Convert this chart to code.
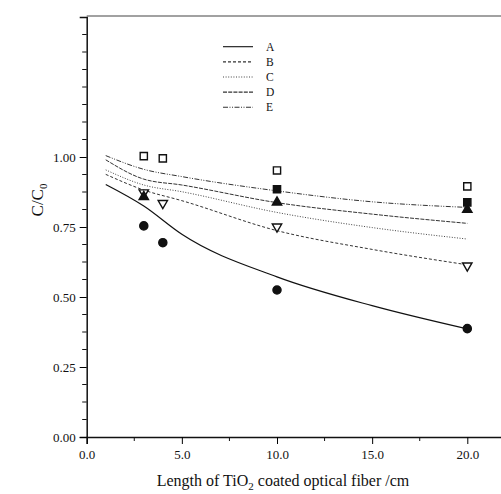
<!DOCTYPE html>
<html>
<head>
<meta charset="utf-8">
<script src="https://cdn.jsdelivr.net/npm/d3@7"></script>
<style>
	body { margin: 0; background: #fff; }
	text { font-family: "Liberation Serif", "DejaVu Serif", serif; fill: #111; }
</style>
</head>
<body>
<div id="chart"></div>
<script>
// model curves (x in cm)
const lineX = [1, 3, 5, 10, 15, 20];
const lineA = [0.902, 0.825, 0.724, 0.572, 0.469, 0.386];
const lineB = [0.938, 0.882, 0.844, 0.737, 0.670, 0.615];
const lineC = [0.954, 0.900, 0.876, 0.802, 0.748, 0.707];
const lineD = [0.990, 0.921, 0.900, 0.837, 0.796, 0.763];
const lineE = [1.005, 0.956, 0.930, 0.879, 0.840, 0.820];
const lineNames = ["A", "B", "C", "D", "E"];

// measured points
const circleFilledX = [3, 4, 10, 20];
const circleFilledY = [0.754, 0.694, 0.525, 0.387];
const squareOpenX = [3, 4, 10, 20];
const squareOpenY = [1.003, 0.995, 0.952, 0.895];
const squareFilledX = [10, 20];
const squareFilledY = [0.885, 0.838];
const triDownOpenX = [3, 4, 10, 20];
const triDownOpenY = [0.873, 0.835, 0.751, 0.612];
const triUpFilledX = [3, 10, 20];
const triUpFilledY = [0.858, 0.838, 0.812];

const xTicks = [0, 5, 10, 15, 20];
const yTicks = [0, 0.25, 0.5, 0.75, 1.0];

const width = 501;
const height = 494;
const margin = { left: 86.7, top: 17, bottom: 57 };

const svg = d3
	.select("#chart")
	.append("svg")
	.attr("width", width)
	.attr("height", height);

const x = d3
	.scaleLinear()
	.domain([0, 22])
	.range([margin.left, margin.left + 22 * 19.03]);

const y = d3
	.scaleLinear()
	.domain([0, 1.5])
	.range([height - margin.bottom, margin.top]);

//frame: top border
svg
	.append("line")
	.attr("x1", x(0))
	.attr("x2", width)
	.attr("y1", y(1.5) - 1)
	.attr("y2", y(1.5) - 1)
	.attr("stroke", "#444")
	.attr("stroke-width", 1.2);

//x axis
const xAxis = svg
	.append("g")
	.attr("transform", `translate(0, ${y(0)})`)
	.call(
		d3
			.axisBottom(x)
			.tickValues(xTicks)
			.tickSize(7)
			.tickPadding(6)
			.tickFormat(d3.format(".1f"))
	);
xAxis.select(".domain").attr("stroke", "#111").attr("stroke-width", 1.5);
xAxis.selectAll("text").attr("font-size", 13).style("font-family", "Liberation Serif");

svg
	.append("g")
	.attr("transform", `translate(0, ${y(0)})`)
	.selectAll("line")
	.data([2.5, 7.5, 12.5, 17.5])
	.enter()
	.append("line")
	.attr("x1", d => x(d))
	.attr("x2", d => x(d))
	.attr("y1", 0)
	.attr("y2", 4)
	.attr("stroke", "#111");

//y axis
const yAxis = svg
	.append("g")
	.attr("transform", `translate(${x(0)}, 0)`)
	.call(
		d3
			.axisLeft(y)
			.tickValues(yTicks)
			.tickSize(7)
			.tickPadding(4)
			.tickFormat(d3.format(".2f"))
	);
yAxis.select(".domain").attr("stroke", "#111").attr("stroke-width", 1.5);
yAxis.selectAll("text").attr("font-size", 13).style("font-family", "Liberation Serif");

svg
	.append("g")
	.attr("transform", `translate(${x(0)}, 0)`)
	.selectAll("line")
	.data(d3.range(1, 24).map(i => i * 0.0625).filter(v => v % 0.25 !== 0 || v > 1))
	.enter()
	.append("line")
	.attr("x1", -4.5)
	.attr("x2", 0)
	.attr("y1", d => y(d))
	.attr("y2", d => y(d))
	.attr("stroke", "#111");

//axis titles
const xTitle = svg
	.append("text")
	.attr("x", 283)
	.attr("y", 486)
	.attr("text-anchor", "middle")
	.attr("font-size", 16);
xTitle.append("tspan").text("Length of TiO");
xTitle.append("tspan").attr("font-size", 11).attr("dy", 4).text("2");
xTitle.append("tspan").attr("dy", -4).text(" coated optical fiber /cm");

const yTitle = svg
	.append("text")
	.attr("transform", "translate(43, 200) rotate(-90)")
	.attr("text-anchor", "middle")
	.attr("font-size", 17);
yTitle.append("tspan").text("C/C");
yTitle.append("tspan").attr("font-size", 11).attr("dy", 4).text("0");

//curves
const lines = [lineA, lineB, lineC, lineD, lineE];
const dashes = ["none", "3,2", "1,1.6", "4,1.2", "5,1.5,1,1.5,1,1.5"];
const strokes = ["#111", "#333", "#444", "#333", "#333"];

const line = d3
	.line()
	.curve(d3.curveMonotoneX)
	.x(d => x(d[0]))
	.y(d => y(d[1]));

svg
	.append("g")
	.selectAll("path")
	.data(lines)
	.enter()
	.append("path")
	.attr("d", d => line(lineX.map((v, i) => [v, d[i]])))
	.attr("fill", "none")
	.attr("stroke", (d, i) => strokes[i])
	.attr("stroke-width", (d, i) => (i === 0 ? 1.2 : 1))
	.attr("stroke-dasharray", (d, i) => dashes[i]);

//markers
const markerSets = [
	{ xs: squareOpenX, ys: squareOpenY, type: d3.symbolSquare, size: 52, fill: "#fff", rot: 0 },
	{ xs: circleFilledX, ys: circleFilledY, type: d3.symbolCircle, size: 52, fill: "#111", rot: 0 },
	{ xs: triDownOpenX, ys: triDownOpenY, type: d3.symbolTriangle, size: 38, fill: "#fff", rot: 180 },
	{ xs: squareFilledX, ys: squareFilledY, type: d3.symbolSquare, size: 52, fill: "#111", rot: 0 },
	{ xs: triUpFilledX, ys: triUpFilledY, type: d3.symbolTriangle, size: 38, fill: "#111", rot: 0 }
];

markerSets.forEach(m => {
	svg
		.append("g")
		.selectAll("path")
		.data(m.xs.map((v, i) => [v, m.ys[i]]))
		.enter()
		.append("path")
		.attr("d", d3.symbol().type(m.type).size(m.size))
		.attr("transform", d => `translate(${x(d[0])}, ${y(d[1])}) rotate(${m.rot})`)
		.attr("fill", m.fill)
		.attr("stroke", "#111")
		.attr("stroke-width", 1.4);
});

//legend
const legend = svg
	.append("g")
	.selectAll("g")
	.data(lineNames)
	.enter()
	.append("g")
	.attr("transform", (d, i) => `translate(223, ${46.7 + i * 15.15})`);

legend
	.append("line")
	.attr("x1", 0)
	.attr("x2", 30)
	.attr("stroke", (d, i) => strokes[i])
	.attr("stroke-width", 1.1)
	.attr("stroke-dasharray", (d, i) => dashes[i]);

legend
	.append("text")
	.attr("x", 43)
	.attr("y", 4)
	.attr("font-size", 11.5)
	.text(d => d);
</script>
</body>
</html>
